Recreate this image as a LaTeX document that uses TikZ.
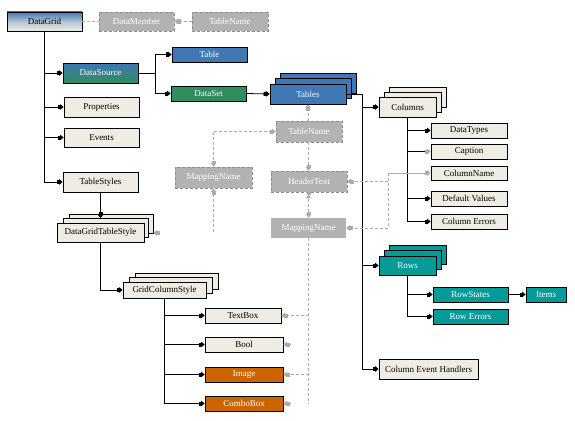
\documentclass[tikz,border=0pt]{standalone}
\usepackage{fontspec}
\setmainfont{Liberation Serif}
\usetikzlibrary{arrows.meta,calc}
\definecolor{beige}{HTML}{EFECE4}
\definecolor{myblue}{HTML}{3F78B4}
\definecolor{mygreen}{HTML}{2E8E5E}
\definecolor{myteal}{HTML}{079B98}
\definecolor{myorange}{HTML}{CC6400}
\definecolor{gfill}{HTML}{B2B2B2}
\definecolor{gborder}{HTML}{8E8E8E}
\definecolor{gline}{HTML}{ABABAB}
\begin{document}
\begin{tikzpicture}[x=1pt,y=-1pt,
  box/.style={draw=black, line width=0.8pt, inner sep=0pt, font=\fontsize{9}{10}\selectfont, minimum width=75pt, minimum height=15pt},
  beigebox/.style={box, fill=beige, text=black},
  bluebox/.style={box, fill=myblue, text=white},
  greenbox/.style={box, fill=mygreen, text=white},
  tealbox/.style={box, fill=myteal, text=white},
  orangebox/.style={box, fill=myorange, text=white},
  graybox/.style={draw=gborder, densely dashed, line width=0.6pt, fill=gfill, text=white, inner sep=0pt, font=\fontsize{9}{10}\selectfont, minimum width=75pt, minimum height=20pt},
  grayplain/.style={graybox, draw=none},
  conn/.style={draw=black, line width=0.8pt},
  arr/.style={conn, -{Square[length=2.5pt,width=4pt]Triangle[length=3.5pt,width=5.5pt]}},
  gtip/.style={-{Square[length=2.5pt,width=4pt,color=gline]Triangle[length=3.5pt,width=5.5pt,color=gline]}},
  gboth/.style={{Square[length=2.5pt,width=4pt,color=gline]Triangle[length=3.5pt,width=5.5pt,color=gline]}-{Square[length=2.5pt,width=4pt,color=gline]Triangle[length=3.5pt,width=5.5pt,color=gline]}},
  gdash/.style={draw=gline, line width=0.8pt, dash pattern=on 3pt off 2pt},
  garr/.style={gdash, gtip},
]
\useasboundingbox (0,0) rectangle (575,420);

% ---------- nodes ----------
\node[box, top color=myblue, bottom color=beige, middle color=myblue!35!beige, minimum height=19pt] (DataGrid) at (44.5,21.5) {DataGrid};
\node[graybox, minimum height=19pt] (DataMember) at (136.5,21.5) {DataMember};
\node[graybox, minimum width=76pt, minimum height=19pt] (TableNameTop) at (230,21.5) {TableName};

\node[bluebox] (Table) at (209.5,54.5) {Table};
\node[box, top color=myblue, bottom color=mygreen, text=white, minimum height=20pt] (DataSource) at (100.5,73) {DataSource};
\node[greenbox] (DataSet) at (208.5,93.5) {DataSet};
\node[beigebox, minimum height=20pt] (Properties) at (101.5,107) {Properties};
\node[beigebox, minimum height=19pt] (Events) at (101.5,137.5) {Events};
\node[beigebox, minimum height=20pt] (TableStyles) at (100.5,182) {TableStyles};

\node[beigebox, minimum width=84pt, minimum height=19pt] (dgtsC) at (111,223.5) {};
\node[beigebox, minimum width=85pt, minimum height=19pt] (dgtsB) at (105.5,228) {};
\node[beigebox, minimum width=87pt, minimum height=19pt] (DGTS) at (100.5,232.5) {DataGridTableStyle};

\node[beigebox, minimum width=83pt, minimum height=16pt] (gcsC) at (176.5,281) {};
\node[beigebox, minimum width=83pt, minimum height=16pt] (gcsB) at (170.5,285.5) {};
\node[beigebox, minimum width=83pt, minimum height=16pt] (GCS) at (164.5,290) {GridColumnStyle};

\node[beigebox, minimum width=76pt] (TextBox) at (243,315.5) {TextBox};
\node[beigebox, minimum width=78pt] (Bool) at (244,344.5) {Bool};
\node[orangebox, minimum width=78pt] (Image) at (244,374.5) {Image};
\node[orangebox, minimum width=78pt] (ComboBox) at (244,403.5) {ComboBox};

\node[bluebox, minimum width=76pt, minimum height=20pt] (tablesC) at (318,83) {};
\node[bluebox, minimum width=76pt, minimum height=20pt] (tablesB) at (313,88.5) {};
\node[bluebox, minimum width=76pt, minimum height=20pt] (Tables) at (308,94) {Tables};

\node[graybox, minimum width=66pt, minimum height=21pt] (TableNameMid) at (309,131.5) {TableName};
\node[graybox, minimum width=76pt, minimum height=21pt] (HeaderText) at (309,181.5) {HeaderText};
\node[grayplain, minimum width=75pt, minimum height=20pt] (MappingMid) at (308.5,228) {MappingName};
\node[graybox, minimum width=77pt, minimum height=21pt] (MappingLeft) at (213.5,177.5) {MappingName};

\node[beigebox, minimum width=57pt, minimum height=20pt] (columnsC) at (417.5,97) {};
\node[beigebox, minimum width=57pt, minimum height=20pt] (columnsB) at (412.5,102) {};
\node[beigebox, minimum width=57pt, minimum height=20pt] (Columns) at (407.5,107) {Columns};

\node[beigebox, minimum width=76pt] (DataTypes) at (469,130.5) {DataTypes};
\node[beigebox, minimum width=76pt] (Caption) at (469,151.5) {Caption};
\node[beigebox, minimum width=76pt, minimum height=14pt] (ColumnName) at (469,173) {ColumnName};
\node[beigebox, minimum width=76pt] (DefaultValues) at (469,198.5) {Default Values};
\node[beigebox, minimum width=76pt] (ColumnErrors) at (469,221.5) {Column Errors};

\node[tealbox, minimum width=57pt, minimum height=19pt] (rowsC) at (417.5,254.5) {};
\node[tealbox, minimum width=57pt, minimum height=19pt] (rowsB) at (412.5,260) {};
\node[tealbox, minimum width=57pt, minimum height=19pt] (Rows) at (407.5,265.5) {Rows};

\node[tealbox] (RowStates) at (470.5,294.5) {RowStates};
\node[tealbox] (RowErrors) at (470.5,316.5) {Row Errors};
\node[tealbox, minimum width=40pt] (Items) at (546,294.5) {Items};
\node[beigebox, minimum width=99pt, minimum height=20pt] (ColEvt) at (428.5,369) {Column Event Handlers};

% ---------- coordinates ----------
\coordinate (trunkT) at (362,94);
\coordinate (trunkL) at (44,31);
\coordinate (colsplit) at (388,173);
\coordinate (colsplitB) at (388,228);
\coordinate (mlcorner) at (213.5,131.5);
\coordinate (mlbottom) at (213.5,232);
\coordinate (mmend) at (308.5,404);
\coordinate (dgtsTip) at (157,233);
\coordinate (boolTip) at (291,344.5);
\coordinate (comboTip) at (291,403.5);

% ---------- black connectors ----------
\draw[arr] (trunkL) |- (TableStyles.west);
\draw[arr] (trunkL |- DataSource.west) -- (DataSource.west);
\draw[arr] (trunkL |- Properties.west) -- (Properties.west);
\draw[arr] (trunkL |- Events.west) -- (Events.west);

\draw[arr] (DataSource.east) -- ++(17,0) |- (Table.west);
\draw[arr] (DataSource.east) -- ++(17,0) |- (DataSet.west);
\draw[arr] (DataSet.east) -- (Tables.west);

\draw[conn] (Tables.east) -- (trunkT);
\draw[arr] (trunkT) |- (ColEvt.west);
\draw[arr] (trunkT |- Columns.west) -- (Columns.west);
\draw[arr] (trunkT |- Rows.west) -- (Rows.west);

\draw[arr] (Columns.south) |- (ColumnErrors.west);
\draw[arr] (Columns.south |- DataTypes.west) -- (DataTypes.west);
\draw[conn, gtip] (Columns.south |- Caption.west) -- (Caption.west);
\draw[arr] (Columns.south |- DefaultValues.west) -- (DefaultValues.west);

\draw[arr] (Rows.south) |- (RowErrors.west);
\draw[arr] (Rows.south |- RowStates.west) -- (RowStates.west);
\draw[arr] (RowStates.east) -- (Items.west);

\draw[arr] (TableStyles.south) -- (TableStyles.south |- dgtsB.north);
\draw[arr] (DGTS.south) |- (GCS.west);

\draw[arr] (GCS.south) |- (ComboBox.west);
\draw[arr] (GCS.south |- TextBox.west) -- (TextBox.west);
\draw[arr] (GCS.south |- Bool.west) -- (Bool.west);
\draw[arr] (GCS.south |- Image.west) -- (Image.west);

% ---------- gray connectors ----------
\draw[gdash] (DataGrid.east) -- (DataMember.west);
\draw[garr] (TableNameTop.west) -- (DataMember.east);

\draw[garr] (TableNameMid.north -| Tables.south) -- (Tables.south);
\draw[garr] (TableNameMid.south -| MappingMid.north) -- (HeaderText.north -| MappingMid.north);
\draw[gdash, gboth] (HeaderText.south -| MappingMid.north) -- (MappingMid.north);

\draw[gdash] (MappingMid.south) -- (mmend);
\draw[garr] (mmend |- TextBox.east) -- (TextBox.east);
\draw[garr] (mmend |- Image.east) -- (Image.east);

\draw[draw=gline, line width=0.8pt, gtip] (colsplit) -- (ColumnName.west);
\draw[gdash] (colsplit) -- (colsplitB);
\draw[garr] (colsplit |- HeaderText.east) -- (HeaderText.east);
\draw[garr] (colsplitB) -- (MappingMid.east);

\draw[garr] (mlcorner) -- (TableNameMid.west);
\draw[garr] (mlcorner) -- (MappingLeft.north);
\draw[garr] (mlbottom) -- (MappingLeft.south);

\draw[draw=gline, line width=0.8pt, gtip] (dgtsTip) -- (dgtsC.east |- dgtsTip);
\draw[draw=gline, line width=0.8pt, gtip] (boolTip) -- (Bool.east);
\draw[draw=gline, line width=0.8pt, gtip] (comboTip) -- (ComboBox.east);
\end{tikzpicture}
\end{document}
